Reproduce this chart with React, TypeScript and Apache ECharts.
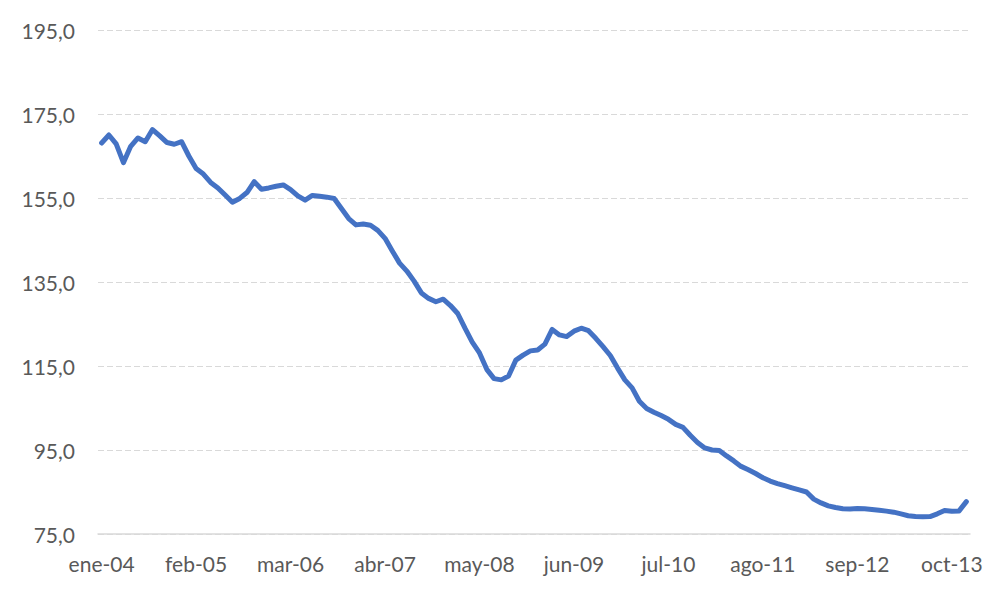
import React, { useEffect, useRef } from "react";
import * as echarts from "echarts";

const MONTHS = ["ene", "feb", "mar", "abr", "may", "jun", "jul", "ago", "sep", "oct", "nov", "dic"];
const START_YEAR = 2004;

// Monthly values, ene-04 … dic-13
const VALUES = [
  168.1, 170.0, 167.9, 163.4, 167.3, 169.3, 168.4, 171.3, 169.8, 168.2, 167.8, 168.4,
  165.0, 162.0, 160.7, 158.7, 157.4, 155.7, 154.0, 154.9, 156.3, 158.9, 157.1, 157.4,
  157.8, 158.1, 157.0, 155.5, 154.5, 155.6, 155.4, 155.2, 154.9, 152.5, 150.1, 148.6,
  148.8, 148.5, 147.3, 145.4, 142.4, 139.5, 137.6, 135.2, 132.4, 131.1, 130.3, 130.9,
  129.4, 127.5, 124.0, 120.7, 118.1, 114.2, 112.0, 111.7, 112.6, 116.4, 117.6, 118.6,
  118.8, 120.2, 123.7, 122.4, 122.0, 123.3, 124.0, 123.4, 121.6, 119.6, 117.5, 114.5,
  111.7, 109.8, 106.6, 104.9, 104.0, 103.2, 102.3, 101.1, 100.4, 98.5, 96.8, 95.5,
  95.0, 94.9, 93.6, 92.4, 91.1, 90.3, 89.4, 88.4, 87.6, 87.0, 86.5, 86.0,
  85.5, 85.0, 83.3, 82.4, 81.7, 81.3, 81.0, 80.95, 81.05, 81.0, 80.85, 80.65,
  80.45, 80.2, 79.8, 79.35, 79.15, 79.1, 79.15, 79.8, 80.6, 80.4, 80.5, 82.7,
];

const CATEGORIES = VALUES.map((_, i) => {
  const m = MONTHS[i % 12];
  const y = String((START_YEAR + Math.floor(i / 12)) % 100).padStart(2, "0");
  return `${m}-${y}`;
});

const Y_MIN = 75;
const Y_MAX = 195;
const Y_STEP = 20;
const LABEL_EVERY = 13;

export default function App() {
  const ref = useRef<HTMLDivElement>(null);

  useEffect(() => {
    document.body.style.margin = "0";
    if (!ref.current) return;
    const chart = echarts.init(ref.current, undefined, { renderer: "svg" });
    const font = "Lato, 'Noto Sans', sans-serif";
    chart.setOption({
      animation: false,
      backgroundColor: "#ffffff",
      grid: { left: 98, right: 30, top: 30, bottom: 65, containLabel: false },
      xAxis: {
        type: "category",
        data: CATEGORIES,
        boundaryGap: true,
        axisTick: { show: false },
        axisLine: { show: true, lineStyle: { color: "#d9d9d9", width: 1.5 } },
        axisLabel: {
          interval: LABEL_EVERY - 1,
          color: "#595959",
          fontSize: 21,
          fontFamily: font,
          margin: 19,
        },
        splitLine: { show: false },
      },
      yAxis: {
        type: "value",
        min: Y_MIN,
        max: Y_MAX,
        interval: Y_STEP,
        axisLine: { show: false },
        axisTick: { show: false },
        axisLabel: {
          color: "#595959",
          fontSize: 21,
          fontFamily: font,
          margin: 23,
          formatter: (v: number) => v.toFixed(1).replace(".", ","),
        },
        splitLine: {
          show: true,
          lineStyle: { color: "#d9d9d9", width: 1.2, type: [6, 3] },
        },
      },
      series: [
        {
          type: "line",
          data: VALUES,
          symbol: "none",
          smooth: false,
          lineStyle: { color: "#4472c4", width: 5, cap: "round", join: "round" },
        },
      ],
    });
    return () => chart.dispose();
  }, []);

  return <div ref={ref} style={{ width: 1000, height: 599 }} />;
}
